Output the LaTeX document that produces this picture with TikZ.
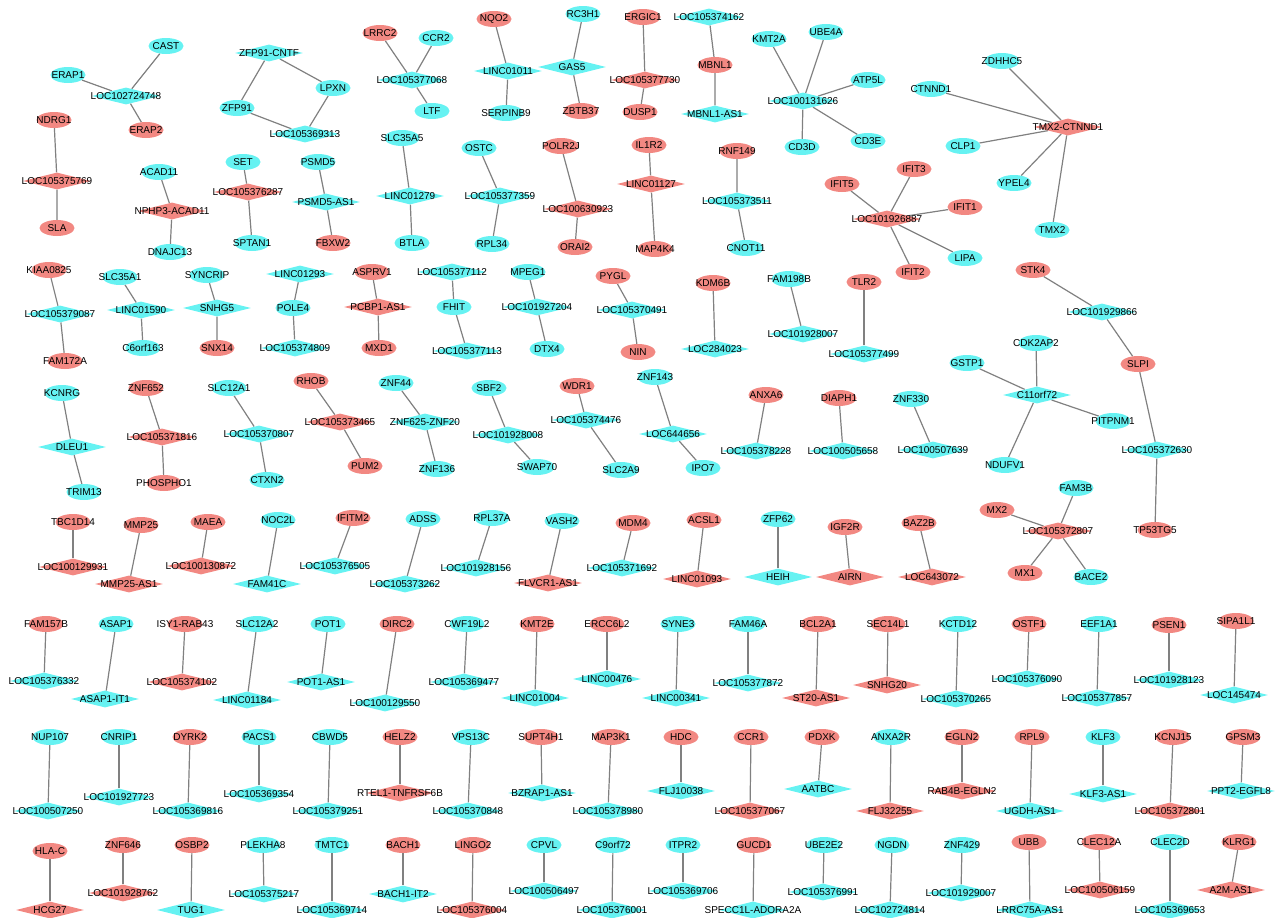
\documentclass[tikz,border=0pt]{standalone}
\usepackage{fontspec}
\setmainfont{Liberation Sans}
\usetikzlibrary{shapes.geometric, backgrounds}

\definecolor{upred}{RGB}{242,136,130}
\definecolor{downcyan}{RGB}{102,242,242}
\definecolor{edgegray}{RGB}{128,128,128}

\begin{document}
\begin{tikzpicture}[x=1pt, y=-1pt,
    every label/.style={font=\fontsize{10}{12}\selectfont, inner sep=0pt},
    mrna/.style={ellipse, minimum width=35pt, minimum height=16pt, inner sep=0pt},
    lnc/.style={diamond, minimum width=68pt, minimum height=17pt, inner sep=0pt},
    mc/.style={mrna, fill=downcyan}, mr/.style={mrna, fill=upred},
    lc/.style={lnc, fill=downcyan}, lr/.style={lnc, fill=upred},
    link/.style={draw=edgegray, line width=1.2pt}]

    \useasboundingbox (0,0) rectangle (1278,918);

    % ---------------- top band ----------------
    % LOC102724748
    \node[mc, label=center:CAST] (CAST) at (166,46) {};
    \node[mc, label=center:ERAP1] (ERAP1) at (68,75) {};
    \node[lc, label=center:LOC102724748] (LOC102724748) at (126,96) {};
    \node[mr, label=center:ERAP2] (ERAP2) at (146,130) {};

    % ZFP91 loop
    \node[lc, label=center:ZFP91-CNTF] (ZFP91-CNTF) at (269,53) {};
    \node[mc, label=center:LPXN] (LPXN) at (333,88) {};
    \node[mc, label=center:ZFP91] (ZFP91) at (237,108) {};
    \node[lc, label=center:LOC105369313] (LOC105369313) at (305,134) {};

    % LOC105377068
    \node[mr, label=center:LRRC2] (LRRC2) at (380,33) {};
    \node[mc, label=center:CCR2] (CCR2) at (436,38) {};
    \node[lc, label=center:LOC105377068] (LOC105377068) at (412,80) {};
    \node[mc, label=center:LTF] (LTF) at (432,111) {};

    % LINC01011
    \node[mr, label=center:NQO2] (NQO2) at (494,19) {};
    \node[lc, label=center:LINC01011] (LINC01011) at (508,71) {};
    \node[mc, label=center:SERPINB9] (SERPINB9) at (506,113) {};

    % GAS5
    \node[mc, label=center:RC3H1] (RC3H1) at (583,14) {};
    \node[lc, label=center:GAS5] (GAS5) at (572,67) {};
    \node[mr, label=center:ZBTB37] (ZBTB37) at (581,111) {};

    % LOC105377730
    \node[mr, label=center:ERGIC1] (ERGIC1) at (643,17) {};
    \node[lr, label=center:LOC105377730] (LOC105377730) at (645,80) {};
    \node[mr, label=center:DUSP1] (DUSP1) at (640,112) {};

    % MBNL1
    \node[lc, label=center:LOC105374162] (LOC105374162) at (709,17) {};
    \node[mr, label=center:MBNL1] (MBNL1) at (715,65) {};
    \node[lc, label=center:MBNL1-AS1] (MBNL1-AS1) at (715,114) {};

    % LOC100131626
    \node[mc, label=center:KMT2A] (KMT2A) at (769,39) {};
    \node[mc, label=center:UBE4A] (UBE4A) at (826,32) {};
    \node[mc, label=center:ATP5L] (ATP5L) at (868,80) {};
    \node[lc, label=center:LOC100131626] (LOC100131626) at (803,101) {};
    \node[mc, label=center:CD3D] (CD3D) at (802,147) {};
    \node[mc, label=center:CD3E] (CD3E) at (868,141) {};

    % TMX2-CTNND1
    \node[mc, label=center:ZDHHC5] (ZDHHC5) at (1002,61) {};
    \node[mc, label=center:CTNND1] (CTNND1) at (931,89) {};
    \node[lr, label=center:TMX2-CTNND1] (TMX2-CTNND1) at (1068,127) {};
    \node[mc, label=center:CLP1] (CLP1) at (963,146) {};
    \node[mc, label=center:YPEL4] (YPEL4) at (1014,183) {};
    \node[mc, label=center:TMX2] (TMX2) at (1052,230) {};

    % ---------------- second band ----------------
    \node[mr, label=center:NDRG1] (NDRG1) at (54,120) {};
    \node[lr, label=center:LOC105375769] (LOC105375769) at (57,181) {};
    \node[mr, label=center:SLA] (SLA) at (57,228) {};

    \node[mc, label=center:ACAD11] (ACAD11) at (159,172) {};
    \node[lr, label=center:NPHP3-ACAD11] (NPHP3-ACAD11) at (172,211) {};
    \node[mc, label=center:DNAJC13] (DNAJC13) at (170,252) {};

    \node[mc, label=center:SET] (SET) at (243,162) {};
    \node[lr, label=center:LOC105376287] (LOC105376287) at (248,192) {};
    \node[mc, label=center:SPTAN1] (SPTAN1) at (252,243) {};

    \node[mc, label=center:PSMD5] (PSMD5) at (318,162) {};
    \node[lc, label=center:PSMD5-AS1] (PSMD5-AS1) at (326,202) {};
    \node[mr, label=center:FBXW2] (FBXW2) at (333,243) {};

    \node[mc, label=center:SLC35A5] (SLC35A5) at (402,138) {};
    \node[lc, label=center:LINC01279] (LINC01279) at (410,196) {};
    \node[mc, label=center:BTLA] (BTLA) at (412,243) {};

    \node[mc, label=center:OSTC] (OSTC) at (479,148) {};
    \node[lc, label=center:LOC105377359] (LOC105377359) at (500,196) {};
    \node[mc, label=center:RPL34] (RPL34) at (492,244) {};

    \node[mr, label=center:POLR2J] (POLR2J) at (561,146) {};
    \node[lr, label=center:LOC100630923] (LOC100630923) at (578,209) {};
    \node[mr, label=center:ORAI2] (ORAI2) at (575,247) {};

    \node[mr, label=center:IL1R2] (IL1R2) at (649,145) {};
    \node[lr, label=center:LINC01127] (LINC01127) at (651,184) {};
    \node[mr, label=center:MAP4K4] (MAP4K4) at (655,249) {};

    \node[mr, label=center:RNF149] (RNF149) at (737,151) {};
    \node[lc, label=center:LOC105373511] (LOC105373511) at (737,201) {};
    \node[mc, label=center:CNOT11] (CNOT11) at (746,248) {};

    % LOC101926887
    \node[mr, label=center:IFIT3] (IFIT3) at (914,169) {};
    \node[mr, label=center:IFIT5] (IFIT5) at (842,184) {};
    \node[mr, label=center:IFIT1] (IFIT1) at (965,207) {};
    \node[lr, label=center:LOC101926887] (LOC101926887) at (887,219) {};
    \node[mc, label=center:LIPA] (LIPA) at (965,258) {};
    \node[mr, label=center:IFIT2] (IFIT2) at (913,272) {};

    % ---------------- third band ----------------
    \node[mr, label=center:KIAA0825] (KIAA0825) at (49,270) {};
    \node[lc, label=center:LOC105379087] (LOC105379087) at (60,314) {};
    \node[mr, label=center:FAM172A] (FAM172A) at (65,361) {};

    \node[mc, label=center:SLC35A1] (SLC35A1) at (120,277) {};
    \node[lc, label=center:LINC01590] (LINC01590) at (141,310) {};
    \node[mc, label=center:C6orf163] (C6orf163) at (143,348) {};

    \node[mc, label=center:SYNCRIP] (SYNCRIP) at (207,275) {};
    \node[lc, label=center:SNHG5] (SNHG5) at (217,308) {};
    \node[mr, label=center:SNX14] (SNX14) at (217,348) {};

    \node[lc, label=center:LINC01293] (LINC01293) at (300,274) {};
    \node[mc, label=center:POLE4] (POLE4) at (293,308) {};
    \node[lc, label=center:LOC105374809] (LOC105374809) at (295,348) {};

    \node[mr, label=center:ASPRV1] (ASPRV1) at (372,272) {};
    \node[lr, label=center:PCBP1-AS1] (PCBP1-AS1) at (378,307) {};
    \node[mr, label=center:MXD1] (MXD1) at (379,348) {};

    \node[lc, label=center:LOC105377112] (LOC105377112) at (452,272) {};
    \node[mc, label=center:FHIT] (FHIT) at (454,307) {};
    \node[lc, label=center:LOC105377113] (LOC105377113) at (467,351) {};

    \node[mc, label=center:MPEG1] (MPEG1) at (528,272) {};
    \node[lc, label=center:LOC101927204] (LOC101927204) at (537,307) {};
    \node[mc, label=center:DTX4] (DTX4) at (547,349) {};

    \node[mr, label=center:PYGL] (PYGL) at (613,276) {};
    \node[lc, label=center:LOC105370491] (LOC105370491) at (632,310) {};
    \node[mr, label=center:NIN] (NIN) at (638,352) {};

    \node[mr, label=center:KDM6B] (KDM6B) at (713,283) {};
    \node[lc, label=center:LOC284023] (LOC284023) at (715,349) {};

    \node[mc, label=center:FAM198B] (FAM198B) at (789,279) {};
    \node[lc, label=center:LOC101928007] (LOC101928007) at (803,334) {};

    \node[mr, label=center:TLR2] (TLR2) at (864,282) {};
    \node[lc, label=center:LOC105377499] (LOC105377499) at (864,354) {};

    % STK4 chain
    \node[mr, label=center:STK4] (STK4) at (1033,270) {};
    \node[lc, label=center:LOC101929866] (LOC101929866) at (1102,312) {};
    \node[mr, label=center:SLPI] (SLPI) at (1138,364) {};
    \node[lc, label=center:LOC105372630] (LOC105372630) at (1157,450) {};
    \node[mr, label=center:TP53TG5] (TP53TG5) at (1155,530) {};

    % C11orf72
    \node[mc, label=center:CDK2AP2] (CDK2AP2) at (1036,343) {};
    \node[mc, label=center:GSTP1] (GSTP1) at (967,363) {};
    \node[lc, label=center:C11orf72] (C11orf72) at (1037,395) {};
    \node[mc, label=center:PITPNM1] (PITPNM1) at (1113,421) {};
    \node[mc, label=center:NDUFV1] (NDUFV1) at (1005,465) {};

    % ---------------- fourth band ----------------
    \node[mc, label=center:KCNRG] (KCNRG) at (62,393) {};
    \node[lc, label=center:DLEU1] (DLEU1) at (72,447) {};
    \node[mc, label=center:TRIM13] (TRIM13) at (84,492) {};

    \node[mr, label=center:ZNF652] (ZNF652) at (146,388) {};
    \node[lr, label=center:LOC105371816] (LOC105371816) at (162,437) {};
    \node[mr, label=center:PHOSPHO1] (PHOSPHO1) at (164,483) {};

    \node[mc, label=center:SLC12A1] (SLC12A1) at (229,388) {};
    \node[lc, label=center:LOC105370807] (LOC105370807) at (259,434) {};
    \node[mc, label=center:CTXN2] (CTXN2) at (267,480) {};

    \node[mr, label=center:RHOB] (RHOB) at (311,381) {};
    \node[lr, label=center:LOC105373465] (LOC105373465) at (340,422) {};
    \node[mr, label=center:PUM2] (PUM2) at (365,466) {};

    \node[mc, label=center:ZNF44] (ZNF44) at (396,383) {};
    \node[lc, label=center:ZNF625-ZNF20] (ZNF625-ZNF20) at (425,422) {};
    \node[mc, label=center:ZNF136] (ZNF136) at (437,469) {};

    \node[mc, label=center:SBF2] (SBF2) at (489,388) {};
    \node[lc, label=center:LOC101928008] (LOC101928008) at (508,435) {};
    \node[mc, label=center:SWAP70] (SWAP70) at (537,467) {};

    \node[mr, label=center:WDR1] (WDR1) at (577,386) {};
    \node[lc, label=center:LOC105374476] (LOC105374476) at (586,420) {};
    \node[mc, label=center:SLC2A9] (SLC2A9) at (621,470) {};

    \node[mc, label=center:ZNF143] (ZNF143) at (655,377) {};
    \node[lc, label=center:LOC644656] (LOC644656) at (673,434) {};
    \node[mc, label=center:IPO7] (IPO7) at (703,468) {};

    \node[mr, label=center:ANXA6] (ANXA6) at (766,395) {};
    \node[lc, label=center:LOC105378228] (LOC105378228) at (756,451) {};

    \node[mr, label=center:DIAPH1] (DIAPH1) at (839,398) {};
    \node[lc, label=center:LOC100505658] (LOC100505658) at (843,451) {};

    \node[mc, label=center:ZNF330] (ZNF330) at (911,399) {};
    \node[lc, label=center:LOC100507639] (LOC100507639) at (933,450) {};

    % LOC105372807
    \node[mc, label=center:FAM3B] (FAM3B) at (1076,488) {};
    \node[mr, label=center:MX2] (MX2) at (997,510) {};
    \node[lr, label=center:LOC105372807] (LOC105372807) at (1058,531) {};
    \node[mr, label=center:MX1] (MX1) at (1025,573) {};
    \node[mc, label=center:BACE2] (BACE2) at (1091,577) {};

    % ---------------- fifth band (pairs) ----------------
    \node[mr, label=center:TBC1D14] (TBC1D14) at (73,522) {};
    \node[lr, label=center:LOC100129931] (LOC100129931) at (73,567) {};
    \node[mr, label=center:MMP25] (MMP25) at (141,525) {};
    \node[lr, label=center:MMP25-AS1] (MMP25-AS1) at (129,584) {};
    \node[mr, label=center:MAEA] (MAEA) at (208,522) {};
    \node[lr, label=center:LOC100130872] (LOC100130872) at (201,566) {};
    \node[mc, label=center:NOC2L] (NOC2L) at (278,520) {};
    \node[lc, label=center:FAM41C] (FAM41C) at (267,584) {};
    \node[mr, label=center:IFITM2] (IFITM2) at (353,518) {};
    \node[lc, label=center:LOC105376505] (LOC105376505) at (335,566) {};
    \node[mc, label=center:ADSS] (ADSS) at (423,519) {};
    \node[lc, label=center:LOC105373262] (LOC105373262) at (405,584) {};
    \node[mc, label=center:RPL37A] (RPL37A) at (492,518) {};
    \node[lc, label=center:LOC101928156] (LOC101928156) at (476,568) {};
    \node[mc, label=center:VASH2] (VASH2) at (562,521) {};
    \node[lr, label=center:FLVCR1-AS1] (FLVCR1-AS1) at (548,583) {};
    \node[mr, label=center:MDM4] (MDM4) at (633,523) {};
    \node[lc, label=center:LOC105371692] (LOC105371692) at (622,568) {};
    \node[mr, label=center:ACSL1] (ACSL1) at (704,520) {};
    \node[lr, label=center:LINC01093] (LINC01093) at (697,579) {};
    \node[mc, label=center:ZFP62] (ZFP62) at (778,519) {};
    \node[lc, label=center:HEIH] (HEIH) at (778,577) {};
    \node[mr, label=center:IGF2R] (IGF2R) at (845,527) {};
    \node[lr, label=center:AIRN] (AIRN) at (850,577) {};
    \node[mr, label=center:BAZ2B] (BAZ2B) at (919,523) {};
    \node[lr, label=center:LOC643072] (LOC643072) at (932,577) {};

    % ---------------- sixth band (pairs) ----------------
    \node[mr, label=center:FAM157B] (FAM157B) at (46,624) {};
    \node[lc, label=center:LOC105376332] (LOC105376332) at (44,681) {};
    \node[mc, label=center:ASAP1] (ASAP1) at (116,624) {};
    \node[lc, label=center:ASAP1-IT1] (ASAP1-IT1) at (105,699) {};
    \node[mr, label=center:ISY1-RAB43] (ISY1-RAB43) at (185,624) {};
    \node[lr, label=center:LOC105374102] (LOC105374102) at (182,682) {};
    \node[mc, label=center:SLC12A2] (SLC12A2) at (257,624) {};
    \node[lc, label=center:LINC01184] (LINC01184) at (247,700) {};
    \node[mc, label=center:POT1] (POT1) at (328,624) {};
    \node[lc, label=center:POT1-AS1] (POT1-AS1) at (321,682) {};
    \node[mr, label=center:DIRC2] (DIRC2) at (397,624) {};
    \node[lc, label=center:LOC100129550] (LOC100129550) at (385,703) {};
    \node[mc, label=center:CWF19L2] (CWF19L2) at (467,624) {};
    \node[lc, label=center:LOC105369477] (LOC105369477) at (464,682) {};
    \node[mr, label=center:KMT2E] (KMT2E) at (537,624) {};
    \node[lc, label=center:LINC01004] (LINC01004) at (535,698) {};
    \node[mr, label=center:ERCC6L2] (ERCC6L2) at (607,624) {};
    \node[lc, label=center:LINC00476] (LINC00476) at (607,679) {};
    \node[mc, label=center:SYNE3] (SYNE3) at (678,624) {};
    \node[lc, label=center:LINC00341] (LINC00341) at (676,698) {};
    \node[mc, label=center:FAM46A] (FAM46A) at (748,624) {};
    \node[lc, label=center:LOC105377872] (LOC105377872) at (748,683) {};
    \node[mr, label=center:BCL2A1] (BCL2A1) at (818,624) {};
    \node[lr, label=center:ST20-AS1] (ST20-AS1) at (816,698) {};
    \node[mr, label=center:SEC14L1] (SEC14L1) at (888,624) {};
    \node[lr, label=center:SNHG20] (SNHG20) at (887,685) {};
    \node[mc, label=center:KCTD12] (KCTD12) at (958,624) {};
    \node[lc, label=center:LOC105370265] (LOC105370265) at (956,699) {};
    \node[mr, label=center:OSTF1] (OSTF1) at (1029,624) {};
    \node[lc, label=center:LOC105376090] (LOC105376090) at (1027,679) {};
    \node[mc, label=center:EEF1A1] (EEF1A1) at (1099,624) {};
    \node[lc, label=center:LOC105377857] (LOC105377857) at (1097,698) {};
    \node[mr, label=center:PSEN1] (PSEN1) at (1169,625) {};
    \node[lc, label=center:LOC101928123] (LOC101928123) at (1169,680) {};
    \node[mr, label=center:SIPA1L1] (SIPA1L1) at (1236,621) {};
    \node[lc, label=center:LOC145474] (LOC145474) at (1234,695) {};

    % ---------------- seventh band (pairs) ----------------
    \node[mc, label=center:NUP107] (NUP107) at (50,737) {};
    \node[lc, label=center:LOC100507250] (LOC100507250) at (48,811) {};
    \node[mc, label=center:CNRIP1] (CNRIP1) at (119,737) {};
    \node[lc, label=center:LOC101927723] (LOC101927723) at (119,797) {};
    \node[mr, label=center:DYRK2] (DYRK2) at (190,737) {};
    \node[lc, label=center:LOC105369816] (LOC105369816) at (188,811) {};
    \node[mc, label=center:PACS1] (PACS1) at (259,737) {};
    \node[lc, label=center:LOC105369354] (LOC105369354) at (259,794) {};
    \node[mc, label=center:CBWD5] (CBWD5) at (330,737) {};
    \node[lc, label=center:LOC105379251] (LOC105379251) at (328,811) {};
    \node[mr, label=center:HELZ2] (HELZ2) at (400,737) {};
    \node[lr, label=center:RTEL1-TNFRSF6B] (RTEL1-TNFRSF6B) at (400,793) {};
    \node[mc, label=center:VPS13C] (VPS13C) at (471,737) {};
    \node[lc, label=center:LOC105370848] (LOC105370848) at (468,811) {};
    \node[mr, label=center:SUPT4H1] (SUPT4H1) at (541,737) {};
    \node[lc, label=center:BZRAP1-AS1] (BZRAP1-AS1) at (542,793) {};
    \node[mr, label=center:MAP3K1] (MAP3K1) at (611,737) {};
    \node[lc, label=center:LOC105378980] (LOC105378980) at (608,811) {};
    \node[mr, label=center:HDC] (HDC) at (681,737) {};
    \node[lc, label=center:FLJ10038] (FLJ10038) at (681,791) {};
    \node[mr, label=center:CCR1] (CCR1) at (751,737) {};
    \node[lr, label=center:LOC105377067] (LOC105377067) at (750,811) {};
    \node[mr, label=center:PDXK] (PDXK) at (822,737) {};
    \node[lc, label=center:AATBC] (AATBC) at (818,789) {};
    \node[mc, label=center:ANXA2R] (ANXA2R) at (891,737) {};
    \node[lr, label=center:FLJ32255] (FLJ32255) at (890,811) {};
    \node[mr, label=center:EGLN2] (EGLN2) at (962,737) {};
    \node[lr, label=center:RAB4B-EGLN2] (RAB4B-EGLN2) at (962,791) {};
    \node[mr, label=center:RPL9] (RPL9) at (1032,737) {};
    \node[lc, label=center:UGDH-AS1] (UGDH-AS1) at (1030,811) {};
    \node[mc, label=center:KLF3] (KLF3) at (1103,737) {};
    \node[lc, label=center:KLF3-AS1] (KLF3-AS1) at (1103,794) {};
    \node[mr, label=center:KCNJ15] (KCNJ15) at (1173,737) {};
    \node[lr, label=center:LOC105372801] (LOC105372801) at (1170,811) {};
    \node[mr, label=center:GPSM3] (GPSM3) at (1243,737) {};
    \node[lc, label=center:PPT2-EGFL8] (PPT2-EGFL8) at (1241,791) {};

    % ---------------- bottom band (pairs) ----------------
    \node[mr, label=center:HLA-C] (HLA-C) at (50,851) {};
    \node[lr, label=center:HCG27] (HCG27) at (50,910) {};
    \node[mr, label=center:ZNF646] (ZNF646) at (123,845) {};
    \node[lr, label=center:LOC101928762] (LOC101928762) at (123,893) {};
    \node[mr, label=center:OSBP2] (OSBP2) at (192,845) {};
    \node[lc, label=center:TUG1] (TUG1) at (191,910) {};
    \node[mc, label=center:PLEKHA8] (PLEKHA8) at (263,845) {};
    \node[lc, label=center:LOC105375217] (LOC105375217) at (264,894) {};
    \node[mc, label=center:TMTC1] (TMTC1) at (332,845) {};
    \node[lc, label=center:LOC105369714] (LOC105369714) at (332,910) {};
    \node[mr, label=center:BACH1] (BACH1) at (403,845) {};
    \node[lc, label=center:BACH1-IT2] (BACH1-IT2) at (403,894) {};
    \node[mr, label=center:LINGO2] (LINGO2) at (473,845) {};
    \node[lr, label=center:LOC105376004] (LOC105376004) at (472,910) {};
    \node[mc, label=center:CPVL] (CPVL) at (544,845) {};
    \node[lc, label=center:LOC100506497] (LOC100506497) at (544,891) {};
    \node[mc, label=center:C9orf72] (C9orf72) at (613,845) {};
    \node[lc, label=center:LOC105376001] (LOC105376001) at (612,910) {};
    \node[mc, label=center:ITPR2] (ITPR2) at (683,845) {};
    \node[lc, label=center:LOC105369706] (LOC105369706) at (683,891) {};
    \node[mr, label=center:GUCD1] (GUCD1) at (754,845) {};
    \node[lc, label=center:SPECC1L-ADORA2A] (SPECC1L-ADORA2A) at (753,910) {};
    \node[mc, label=center:UBE2E2] (UBE2E2) at (824,845) {};
    \node[lc, label=center:LOC105376991] (LOC105376991) at (823,892) {};
    \node[mc, label=center:NGDN] (NGDN) at (892,845) {};
    \node[lc, label=center:LOC102724814] (LOC102724814) at (890,910) {};
    \node[mc, label=center:ZNF429] (ZNF429) at (962,845) {};
    \node[lc, label=center:LOC101929007] (LOC101929007) at (961,893) {};
    \node[mr, label=center:UBB] (UBB) at (1029,842) {};
    \node[lc, label=center:LRRC75A-AS1] (LRRC75A-AS1) at (1030,910) {};
    \node[mr, label=center:CLEC12A] (CLEC12A) at (1099,842) {};
    \node[lr, label=center:LOC100506159] (LOC100506159) at (1100,890) {};
    \node[mc, label=center:CLEC2D] (CLEC2D) at (1170,842) {};
    \node[lc, label=center:LOC105369653] (LOC105369653) at (1170,910) {};
    \node[mr, label=center:KLRG1] (KLRG1) at (1239,842) {};
    \node[lr, label=center:A2M-AS1] (A2M-AS1) at (1231,890) {};

    % ---------------- edges ----------------
    \begin{scope}[on background layer]
        % hubs
        \draw[link] (CAST) -- (LOC102724748);
        \draw[link] (ERAP1) -- (LOC102724748);
        \draw[link] (ERAP2) -- (LOC102724748);
        \draw[link] (ZFP91-CNTF) -- (ZFP91);
        \draw[link] (ZFP91-CNTF) -- (LPXN);
        \draw[link] (ZFP91) -- (LOC105369313);
        \draw[link] (LPXN) -- (LOC105369313);
        \draw[link] (LRRC2) -- (LOC105377068);
        \draw[link] (CCR2) -- (LOC105377068);
        \draw[link] (LTF) -- (LOC105377068);
        \draw[link] (KMT2A) -- (LOC100131626);
        \draw[link] (UBE4A) -- (LOC100131626);
        \draw[link] (ATP5L) -- (LOC100131626);
        \draw[link] (CD3D) -- (LOC100131626);
        \draw[link] (CD3E) -- (LOC100131626);
        \draw[link] (ZDHHC5) -- (TMX2-CTNND1);
        \draw[link] (CTNND1) -- (TMX2-CTNND1);
        \draw[link] (CLP1) -- (TMX2-CTNND1);
        \draw[link] (YPEL4) -- (TMX2-CTNND1);
        \draw[link] (TMX2) -- (TMX2-CTNND1);
        \draw[link] (IFIT3) -- (LOC101926887);
        \draw[link] (IFIT5) -- (LOC101926887);
        \draw[link] (IFIT1) -- (LOC101926887);
        \draw[link] (LIPA) -- (LOC101926887);
        \draw[link] (IFIT2) -- (LOC101926887);
        \draw[link] (CDK2AP2) -- (C11orf72);
        \draw[link] (GSTP1) -- (C11orf72);
        \draw[link] (PITPNM1) -- (C11orf72);
        \draw[link] (NDUFV1) -- (C11orf72);
        \draw[link] (FAM3B) -- (LOC105372807);
        \draw[link] (MX2) -- (LOC105372807);
        \draw[link] (MX1) -- (LOC105372807);
        \draw[link] (BACE2) -- (LOC105372807);
        \draw[link] (STK4) -- (LOC101929866) -- (SLPI) -- (LOC105372630) -- (TP53TG5);

        % triples
        \draw[link] (NQO2) -- (LINC01011) -- (SERPINB9);
        \draw[link] (RC3H1) -- (GAS5) -- (ZBTB37);
        \draw[link] (ERGIC1) -- (LOC105377730) -- (DUSP1);
        \draw[link] (LOC105374162) -- (MBNL1) -- (MBNL1-AS1);
        \draw[link] (NDRG1) -- (LOC105375769) -- (SLA);
        \draw[link] (ACAD11) -- (NPHP3-ACAD11) -- (DNAJC13);
        \draw[link] (SET) -- (LOC105376287) -- (SPTAN1);
        \draw[link] (PSMD5) -- (PSMD5-AS1) -- (FBXW2);
        \draw[link] (SLC35A5) -- (LINC01279) -- (BTLA);
        \draw[link] (OSTC) -- (LOC105377359) -- (RPL34);
        \draw[link] (POLR2J) -- (LOC100630923) -- (ORAI2);
        \draw[link] (IL1R2) -- (LINC01127) -- (MAP4K4);
        \draw[link] (RNF149) -- (LOC105373511) -- (CNOT11);
        \draw[link] (KIAA0825) -- (LOC105379087) -- (FAM172A);
        \draw[link] (SLC35A1) -- (LINC01590) -- (C6orf163);
        \draw[link] (SYNCRIP) -- (SNHG5) -- (SNX14);
        \draw[link] (LINC01293) -- (POLE4) -- (LOC105374809);
        \draw[link] (ASPRV1) -- (PCBP1-AS1) -- (MXD1);
        \draw[link] (LOC105377112) -- (FHIT) -- (LOC105377113);
        \draw[link] (MPEG1) -- (LOC101927204) -- (DTX4);
        \draw[link] (PYGL) -- (LOC105370491) -- (NIN);
        \draw[link] (KCNRG) -- (DLEU1) -- (TRIM13);
        \draw[link] (ZNF652) -- (LOC105371816) -- (PHOSPHO1);
        \draw[link] (SLC12A1) -- (LOC105370807) -- (CTXN2);
        \draw[link] (RHOB) -- (LOC105373465) -- (PUM2);
        \draw[link] (ZNF44) -- (ZNF625-ZNF20) -- (ZNF136);
        \draw[link] (SBF2) -- (LOC101928008) -- (SWAP70);
        \draw[link] (WDR1) -- (LOC105374476) -- (SLC2A9);
        \draw[link] (ZNF143) -- (LOC644656) -- (IPO7);

        % pairs
        \draw[link] (KDM6B) -- (LOC284023);
        \draw[link] (FAM198B) -- (LOC101928007);
        \draw[link] (TLR2) -- (LOC105377499);
        \draw[link] (ANXA6) -- (LOC105378228);
        \draw[link] (DIAPH1) -- (LOC100505658);
        \draw[link] (ZNF330) -- (LOC100507639);
        \draw[link] (TBC1D14) -- (LOC100129931);
        \draw[link] (MMP25) -- (MMP25-AS1);
        \draw[link] (MAEA) -- (LOC100130872);
        \draw[link] (NOC2L) -- (FAM41C);
        \draw[link] (IFITM2) -- (LOC105376505);
        \draw[link] (ADSS) -- (LOC105373262);
        \draw[link] (RPL37A) -- (LOC101928156);
        \draw[link] (VASH2) -- (FLVCR1-AS1);
        \draw[link] (MDM4) -- (LOC105371692);
        \draw[link] (ACSL1) -- (LINC01093);
        \draw[link] (ZFP62) -- (HEIH);
        \draw[link] (IGF2R) -- (AIRN);
        \draw[link] (BAZ2B) -- (LOC643072);
        \draw[link] (FAM157B) -- (LOC105376332);
        \draw[link] (ASAP1) -- (ASAP1-IT1);
        \draw[link] (ISY1-RAB43) -- (LOC105374102);
        \draw[link] (SLC12A2) -- (LINC01184);
        \draw[link] (POT1) -- (POT1-AS1);
        \draw[link] (DIRC2) -- (LOC100129550);
        \draw[link] (CWF19L2) -- (LOC105369477);
        \draw[link] (KMT2E) -- (LINC01004);
        \draw[link] (ERCC6L2) -- (LINC00476);
        \draw[link] (SYNE3) -- (LINC00341);
        \draw[link] (FAM46A) -- (LOC105377872);
        \draw[link] (BCL2A1) -- (ST20-AS1);
        \draw[link] (SEC14L1) -- (SNHG20);
        \draw[link] (KCTD12) -- (LOC105370265);
        \draw[link] (OSTF1) -- (LOC105376090);
        \draw[link] (EEF1A1) -- (LOC105377857);
        \draw[link] (PSEN1) -- (LOC101928123);
        \draw[link] (SIPA1L1) -- (LOC145474);
        \draw[link] (NUP107) -- (LOC100507250);
        \draw[link] (CNRIP1) -- (LOC101927723);
        \draw[link] (DYRK2) -- (LOC105369816);
        \draw[link] (PACS1) -- (LOC105369354);
        \draw[link] (CBWD5) -- (LOC105379251);
        \draw[link] (HELZ2) -- (RTEL1-TNFRSF6B);
        \draw[link] (VPS13C) -- (LOC105370848);
        \draw[link] (SUPT4H1) -- (BZRAP1-AS1);
        \draw[link] (MAP3K1) -- (LOC105378980);
        \draw[link] (HDC) -- (FLJ10038);
        \draw[link] (CCR1) -- (LOC105377067);
        \draw[link] (PDXK) -- (AATBC);
        \draw[link] (ANXA2R) -- (FLJ32255);
        \draw[link] (EGLN2) -- (RAB4B-EGLN2);
        \draw[link] (RPL9) -- (UGDH-AS1);
        \draw[link] (KLF3) -- (KLF3-AS1);
        \draw[link] (KCNJ15) -- (LOC105372801);
        \draw[link] (GPSM3) -- (PPT2-EGFL8);
        \draw[link] (HLA-C) -- (HCG27);
        \draw[link] (ZNF646) -- (LOC101928762);
        \draw[link] (OSBP2) -- (TUG1);
        \draw[link] (PLEKHA8) -- (LOC105375217);
        \draw[link] (TMTC1) -- (LOC105369714);
        \draw[link] (BACH1) -- (BACH1-IT2);
        \draw[link] (LINGO2) -- (LOC105376004);
        \draw[link] (CPVL) -- (LOC100506497);
        \draw[link] (C9orf72) -- (LOC105376001);
        \draw[link] (ITPR2) -- (LOC105369706);
        \draw[link] (GUCD1) -- (SPECC1L-ADORA2A);
        \draw[link] (UBE2E2) -- (LOC105376991);
        \draw[link] (NGDN) -- (LOC102724814);
        \draw[link] (ZNF429) -- (LOC101929007);
        \draw[link] (UBB) -- (LRRC75A-AS1);
        \draw[link] (CLEC12A) -- (LOC100506159);
        \draw[link] (CLEC2D) -- (LOC105369653);
        \draw[link] (KLRG1) -- (A2M-AS1);
    \end{scope}

\end{tikzpicture}
\end{document}
